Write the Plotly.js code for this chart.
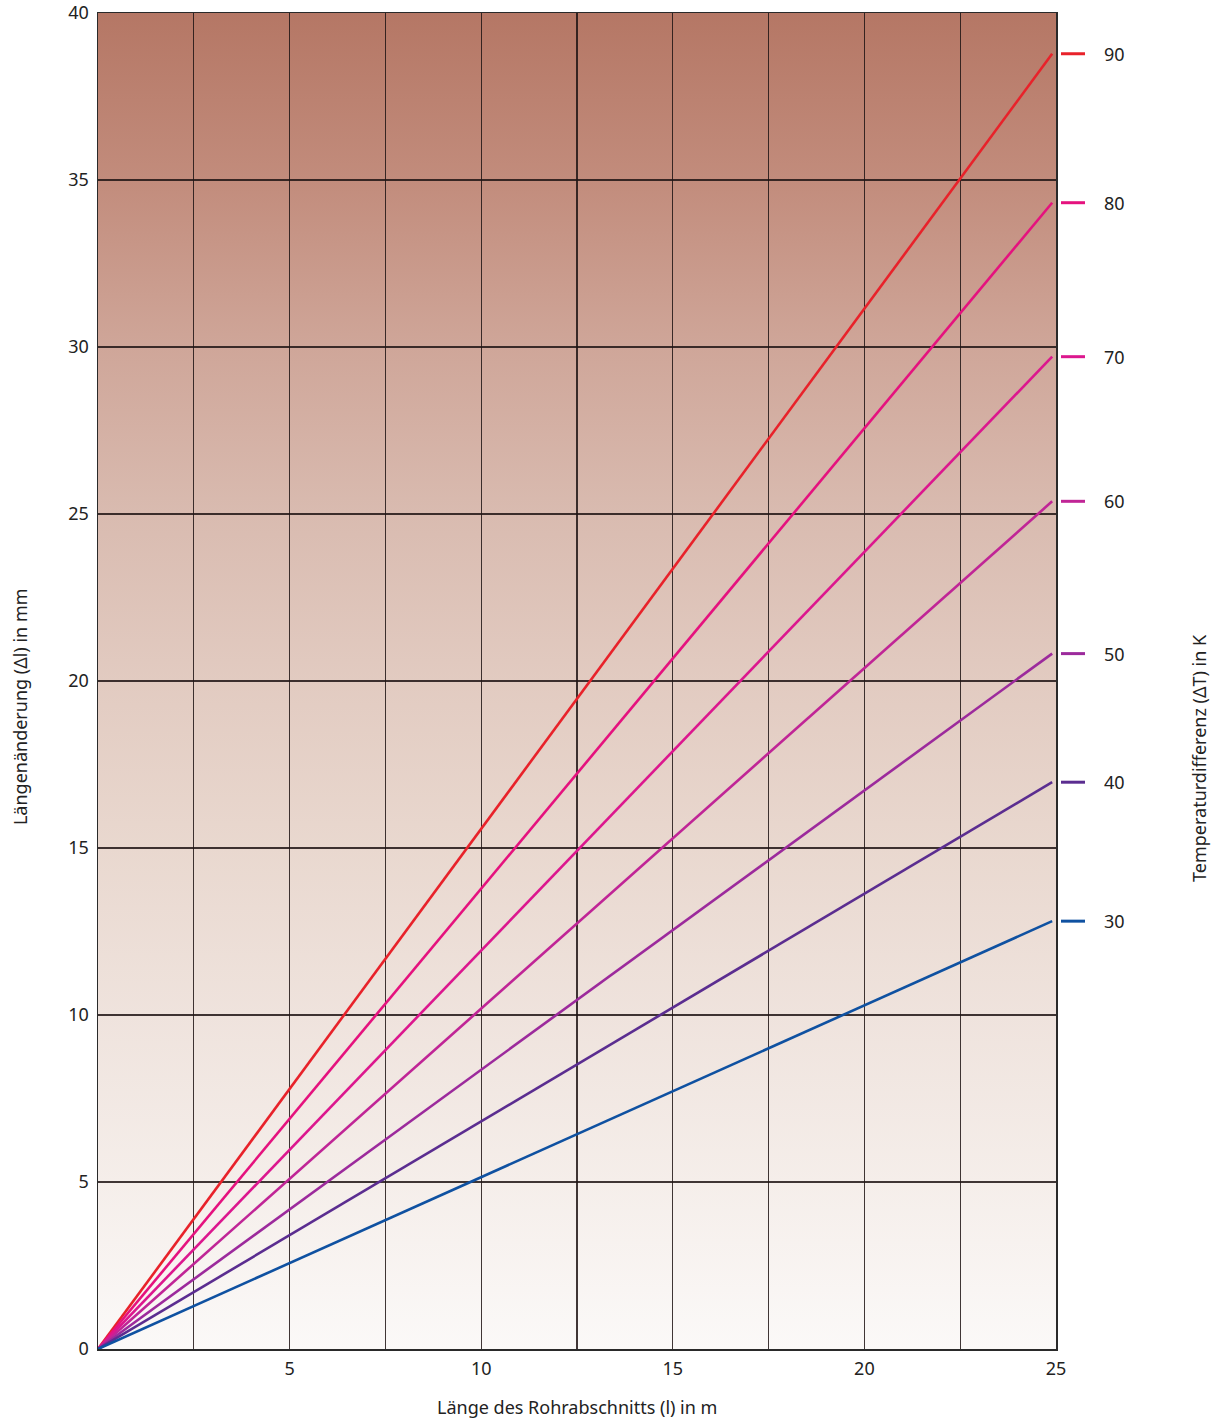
<!DOCTYPE html>
<html>
<head>
<meta charset="utf-8">
<script src="https://cdn.plot.ly/plotly-3.0.1.min.js"></script>
<style>html,body{margin:0;padding:0;background:#fff;}#chart{width:1219px;height:1421px;}</style>
</head>
<body>
<div id="chart"></div>
<script>
// Temperature differences (K) and the length change (mm) read at the end of each line
const deltaT = [90, 80, 70, 60, 50, 40, 30];
const endLength = 24.9;               // m, where the lines end
const endDelta = [38.78, 34.32, 29.71, 25.38, 20.82, 16.97, 12.81]; // mm
const lineColors = ['#e8222a', '#e5127e', '#dc178e', '#c02596', '#9c2a9c', '#5b2d90', '#0f51a1'];

const xTickVals = [0, 2.5, 5, 7.5, 10, 12.5, 15, 17.5, 20, 22.5, 25];
const xTickText = ['', '', '5', '', '10', '', '15', '', '20', '', '25'];
const yTickVals = [0, 5, 10, 15, 20, 25, 30, 35, 40];

const FONT = 'Noto Sans, Open Sans, sans-serif';
const TXT = '#222222';
const FS = 18;

const traces = deltaT.map((t, i) => ({
  type: 'scatter', mode: 'lines',
  x: [0, endLength], y: [0, endDelta[i]],
  line: { color: lineColors[i], width: 2.6 },
  name: t + ' K', hoverinfo: 'skip', showlegend: false, cliponaxis: false
}));

// vertical background gradient as SVG
const grad = '<svg xmlns="http://www.w3.org/2000/svg" width="100" height="100" preserveAspectRatio="none" viewBox="0 0 100 100">' +
  '<defs><linearGradient id="g" x1="0" y1="0" x2="0" y2="1">' +
  '<stop offset="0" stop-color="#b57765"/>' +
  '<stop offset="0.125" stop-color="#c28c7c"/>' +
  '<stop offset="0.25" stop-color="#cfa699"/>' +
  '<stop offset="0.375" stop-color="#d9bbb0"/>' +
  '<stop offset="0.5" stop-color="#e2cbc1"/>' +
  '<stop offset="0.625" stop-color="#e9d8cf"/>' +
  '<stop offset="0.75" stop-color="#efe3dd"/>' +
  '<stop offset="0.875" stop-color="#f5eeea"/>' +
  '<stop offset="1" stop-color="#fbf9f8"/>' +
  '</linearGradient></defs><rect x="0" y="0" width="100" height="100" fill="url(#g)"/></svg>';
const gradUrl = 'data:image/svg+xml;charset=utf-8,' + encodeURIComponent(grad);

const shapes = deltaT.map((t, i) => ({
  type: 'line', xref: 'paper', yref: 'y',
  x0: 1.0052, x1: 1.0303, y0: endDelta[i], y1: endDelta[i],
  line: { color: lineColors[i], width: 3 }
}));

const annotations = deltaT.map((t, i) => ({
  xref: 'paper', yref: 'y', x: 1.048, y: endDelta[i],
  xanchor: 'left', yanchor: 'middle', showarrow: false,
  text: String(t), font: { family: FONT, size: FS, color: TXT }
}));
annotations.push({
  xref: 'paper', yref: 'paper', x: -0.0814, y: 0.4805, textangle: -90,
  xanchor: 'center', yanchor: 'middle', showarrow: false,
  text: 'Längenänderung (Δl) in mm', font: { family: FONT, size: FS, color: TXT }
});
annotations.push({
  xref: 'paper', yref: 'paper', x: 1.1493, y: 0.4424, textangle: -90,
  xanchor: 'center', yanchor: 'middle', showarrow: false,
  text: 'Temperaturdifferenz (ΔT) in K', font: { family: FONT, size: FS, color: TXT }
});
annotations.push({
  xref: 'paper', yref: 'paper', x: 0.5, y: -0.0434,
  xanchor: 'center', yanchor: 'middle', showarrow: false,
  text: 'Länge des Rohrabschnitts (l) in m', font: { family: FONT, size: FS, color: TXT }
});

const layout = {
  width: 1219, height: 1421,
  margin: { l: 98, r: 163, t: 13, b: 72 },
  paper_bgcolor: '#ffffff', plot_bgcolor: '#fbf9f8',
  font: { family: FONT, size: FS, color: TXT },
  showlegend: false,
  xaxis: {
    range: [0, 25], tickmode: 'array', tickvals: xTickVals, ticktext: xTickText,
    showgrid: true, gridcolor: 'rgba(30,20,20,0.85)', gridwidth: 1.3,
    zeroline: false, showline: true, linecolor: '#2a2a2a', linewidth: 1.5, mirror: true,
    ticks: '', ticklabelstandoff: 3, fixedrange: true,
    tickfont: { family: FONT, size: FS, color: TXT }
  },
  yaxis: {
    range: [0, 40], tickmode: 'array', tickvals: yTickVals,
    showgrid: true, gridcolor: 'rgba(30,20,20,0.85)', gridwidth: 1.3,
    zeroline: false, showline: true, linecolor: '#2a2a2a', linewidth: 1.5, mirror: true,
    ticks: '', ticklabelstandoff: 4, fixedrange: true,
    tickfont: { family: FONT, size: FS, color: TXT }
  },
  images: [{
    source: gradUrl, xref: 'x', yref: 'y', x: 0, y: 40, sizex: 25, sizey: 40,
    sizing: 'stretch', xanchor: 'left', yanchor: 'top', layer: 'below', opacity: 1
  }],
  shapes: shapes,
  annotations: annotations
};

Plotly.newPlot('chart', traces, layout, { staticPlot: true, displayModeBar: false });
</script>
</body>
</html>
